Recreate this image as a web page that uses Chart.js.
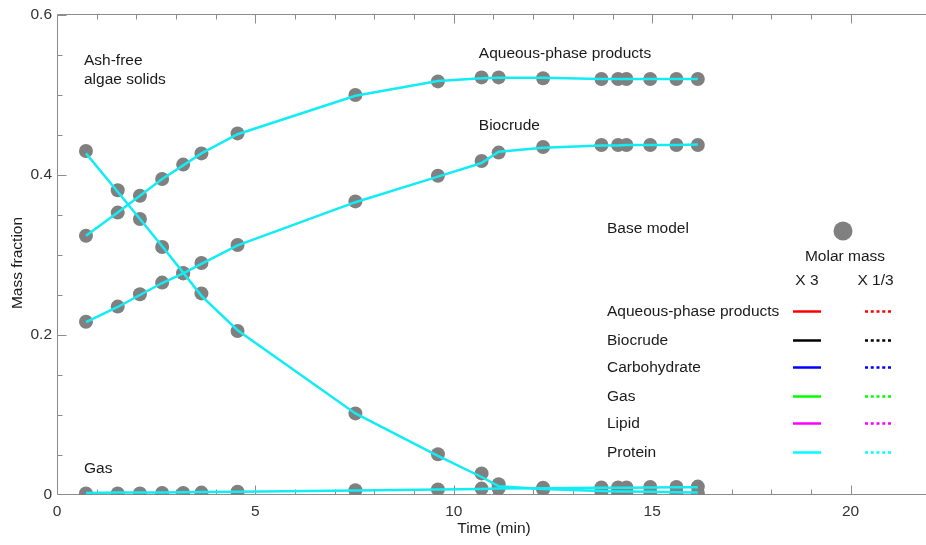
<!DOCTYPE html>
<html lang="en">

<head>
    <meta charset="UTF-8">
    <title>Mass fraction vs time</title>
    <script src="https://cdn.jsdelivr.net/npm/chart.js@4.4.1/dist/chart.umd.min.js"></script>
    <style>
        body { margin: 0; background: #fff; }
        canvas { display: block; }
    </style>
</head>

<body>
    <canvas id="massChart" width="926" height="545"></canvas>

    <script>
        // sampling times (min)
        const times = [0.73, 1.53, 2.09, 2.65, 3.18, 3.64, 4.55, 7.52, 9.6, 10.7, 11.13, 12.25, 13.72, 14.14, 14.35, 14.95, 15.61, 16.15];

        // base model, gray markers
        const aqueousBase = [0.324, 0.353, 0.374, 0.395, 0.413, 0.427, 0.452, 0.5, 0.517, 0.522, 0.522, 0.521, 0.52, 0.52, 0.52, 0.52, 0.52, 0.52];
        const biocrudeBase = [0.2165, 0.2355, 0.251, 0.2655, 0.2775, 0.29, 0.3125, 0.367, 0.399, 0.4175, 0.428, 0.435, 0.4375, 0.4375, 0.4375, 0.4375, 0.4375, 0.4375];
        const solidsBase = [0.43, 0.381, 0.345, 0.31, 0.277, 0.252, 0.205, 0.102, 0.051, 0.027, 0.0135, 0.007, 0.004, 0.0035, 0.0035, 0.003, 0.003, 0.0025];
        const gasBase = [0.002, 0.002, 0.002, 0.0025, 0.0025, 0.003, 0.004, 0.006, 0.007, 0.008, 0.0085, 0.009, 0.0095, 0.0095, 0.0095, 0.01, 0.01, 0.0105];

        // molar mass variants, cyan curves
        const aqueousModel = [0.324, 0.353, 0.374, 0.395, 0.412, 0.427, 0.451, 0.499, 0.5175, 0.521, 0.5215, 0.5215, 0.52, 0.52, 0.52, 0.52, 0.52, 0.52];
        const biocrudeModel = [0.216, 0.235, 0.25, 0.265, 0.277, 0.289, 0.312, 0.366, 0.398, 0.415, 0.429, 0.434, 0.437, 0.437, 0.4375, 0.4375, 0.4375, 0.438];
        const solidsModel = [0.427, 0.379, 0.345, 0.311, 0.278, 0.249, 0.206, 0.102, 0.049, 0.0225, 0.011, 0.0075, 0.005, 0.0045, 0.0045, 0.004, 0.0035, 0.003];
        const gasModel = [0.0025, 0.003, 0.003, 0.0032, 0.0035, 0.0037, 0.004, 0.0055, 0.0068, 0.0075, 0.008, 0.0085, 0.009, 0.009, 0.0092, 0.0095, 0.0097, 0.0098];

        // legend rows
        const legendNames = ['Aqueous-phase products', 'Biocrude', 'Carbohydrate', 'Gas', 'Lipid', 'Protein'];
        const legendColors = ['#ff0000', '#000000', '#0000ff', '#00ff00', '#ff00ff', '#00ffff'];

        // curve labels, placed in data units
        const curveLabels = [
            { text: 'Ash-free', x: 0.68, y: 0.5425 },
            { text: 'algae solids', x: 0.68, y: 0.519 },
            { text: 'Aqueous-phase products', x: 10.63, y: 0.551 },
            { text: 'Biocrude', x: 10.63, y: 0.4616 },
            { text: 'Gas', x: 0.68, y: 0.0325 },
        ];

        const FAMILY = '"Liberation Sans", Arial, sans-serif';
        const FONT = '15.5px ' + FAMILY;
        const TEXT = '#1a1a1a';
        const AXIS = '#8c8c8c';
        const MARKER = '#808080';
        const CURVE = '#12ecf4';

        const toPoints = (values) => times.map((t, i) => ({ x: t, y: values[i] }));

        const markerSet = (values) => ({
            data: toPoints(values),
            showLine: false,
            pointRadius: 7,
            pointHoverRadius: 7,
            pointBackgroundColor: MARKER,
            pointBorderWidth: 0,
            order: 2,
        });

        const curveSet = (values) => ({
            data: toPoints(values),
            showLine: true,
            borderColor: CURVE,
            borderWidth: 2.5,
            pointRadius: 0,
            tension: 0,
            fill: false,
            order: 1,
        });

        const isMultiple = (v, step) => Math.abs(v / step - Math.round(v / step)) < 1e-6;

        // box, inward ticks and axis titles
        const framePlugin = {
            id: 'frame',
            beforeDatasetsDraw(chart) {
                const { ctx, chartArea: a, scales: { x, y } } = chart;
                const L = Math.round(a.left) + 0.5;
                const B = Math.round(a.bottom) - 0.5;
                const T = Math.round(a.top) - 0.5;
                ctx.save();
                ctx.strokeStyle = AXIS;
                ctx.lineWidth = 1;
                ctx.beginPath();
                ctx.moveTo(L, T); ctx.lineTo(L, B);
                ctx.moveTo(L, B); ctx.lineTo(a.right, B);
                ctx.moveTo(L, T); ctx.lineTo(a.right, T);
                x.ticks.forEach(t => {
                    if (!isMultiple(t.value, 1) || t.value === 0) return;
                    const px = Math.round(x.getPixelForValue(t.value)) + 0.5;
                    const len = isMultiple(t.value, 5) ? 9 : 5;
                    ctx.moveTo(px, B); ctx.lineTo(px, B - len);
                    ctx.moveTo(px, T); ctx.lineTo(px, T + len);
                });
                y.ticks.forEach(t => {
                    if (t.value === 0) return;
                    const py = Math.round(y.getPixelForValue(t.value)) + 0.5;
                    const len = isMultiple(t.value, 0.2) ? 9 : 5;
                    ctx.moveTo(L, py); ctx.lineTo(L + len, py);
                });
                ctx.stroke();

                ctx.fillStyle = TEXT;
                ctx.font = FONT;
                ctx.textAlign = 'center';
                ctx.textBaseline = 'middle';
                ctx.fillText('Time (min)', 494, 529);
                ctx.translate(18, 263);
                ctx.rotate(-Math.PI / 2);
                ctx.fillText('Mass fraction', 0, 0);
                ctx.restore();
            },
            afterDatasetsDraw(chart) {
                const { ctx, scales: { x, y } } = chart;
                ctx.save();
                ctx.fillStyle = TEXT;
                ctx.font = FONT;
                ctx.textBaseline = 'middle';
                ctx.textAlign = 'left';
                curveLabels.forEach(l => ctx.fillText(l.text, x.getPixelForValue(l.x), y.getPixelForValue(l.y)));

                // key block
                ctx.fillText('Base model', 607, 229);
                ctx.beginPath();
                ctx.arc(843, 231, 9.5, 0, Math.PI * 2);
                ctx.fillStyle = MARKER;
                ctx.fill();
                ctx.fillStyle = TEXT;
                ctx.textAlign = 'center';
                ctx.fillText('Molar mass', 845, 257);
                ctx.fillText('X 3', 807, 281);
                ctx.fillText('X 1/3', 875.5, 281);

                const rowY = [311.5, 340.5, 367.5, 396.5, 423.5, 452.5];
                ctx.lineWidth = 2.5;
                legendNames.forEach((name, i) => {
                    const ry = rowY[i];
                    ctx.textAlign = 'left';
                    ctx.fillStyle = TEXT;
                    ctx.fillText(name, 607, ry);
                    ctx.strokeStyle = legendColors[i];
                    ctx.setLineDash([]);
                    ctx.beginPath();
                    ctx.moveTo(793, ry); ctx.lineTo(821, ry);
                    ctx.stroke();
                    ctx.setLineDash([3, 2.75]);
                    ctx.beginPath();
                    ctx.moveTo(865, ry); ctx.lineTo(891, ry);
                    ctx.stroke();
                });
                ctx.restore();
            },
        };

        new Chart(document.getElementById('massChart'), {
            type: 'scatter',
            data: {
                datasets: [
                    curveSet(aqueousModel),
                    curveSet(biocrudeModel),
                    curveSet(solidsModel),
                    curveSet(gasModel),
                    markerSet(aqueousBase),
                    markerSet(biocrudeBase),
                    markerSet(solidsBase),
                    markerSet(gasBase),
                ],
            },
            options: {
                responsive: false,
                animation: false,
                devicePixelRatio: 1,
                layout: { autoPadding: false, padding: { top: 15, right: 0, left: 0, bottom: 0 } },
                plugins: {
                    legend: { display: false },
                    tooltip: { enabled: false },
                },
                scales: {
                    x: {
                        type: 'linear',
                        min: 0,
                        max: 21.9,
                        grid: { display: false, drawTicks: false, tickLength: 0 },
                        border: { display: false },
                        ticks: {
                            stepSize: 1,
                            autoSkip: false,
                            maxRotation: 0,
                            padding: 7,
                            color: '#333',
                            font: { family: FAMILY, size: 15.5 },
                            callback: (v) => (isMultiple(v, 5) ? String(v) : ''),
                        },
                        afterFit: (scale) => {
                            scale.height = 50;
                            scale.paddingRight = 0;
                        },
                    },
                    y: {
                        type: 'linear',
                        min: 0,
                        max: 0.6,
                        grid: { display: false, drawTicks: false, tickLength: 0 },
                        border: { display: false },
                        ticks: {
                            stepSize: 0.05,
                            autoSkip: false,
                            padding: 5,
                            color: '#333',
                            font: { family: FAMILY, size: 15.5 },
                            callback: (v) => (isMultiple(v, 0.2) ? (v === 0 ? '0' : v.toFixed(1)) : ''),
                        },
                        afterFit: (scale) => { scale.width = 57; },
                    },
                },
            },
            plugins: [framePlugin],
        });
    </script>
</body>

</html>
